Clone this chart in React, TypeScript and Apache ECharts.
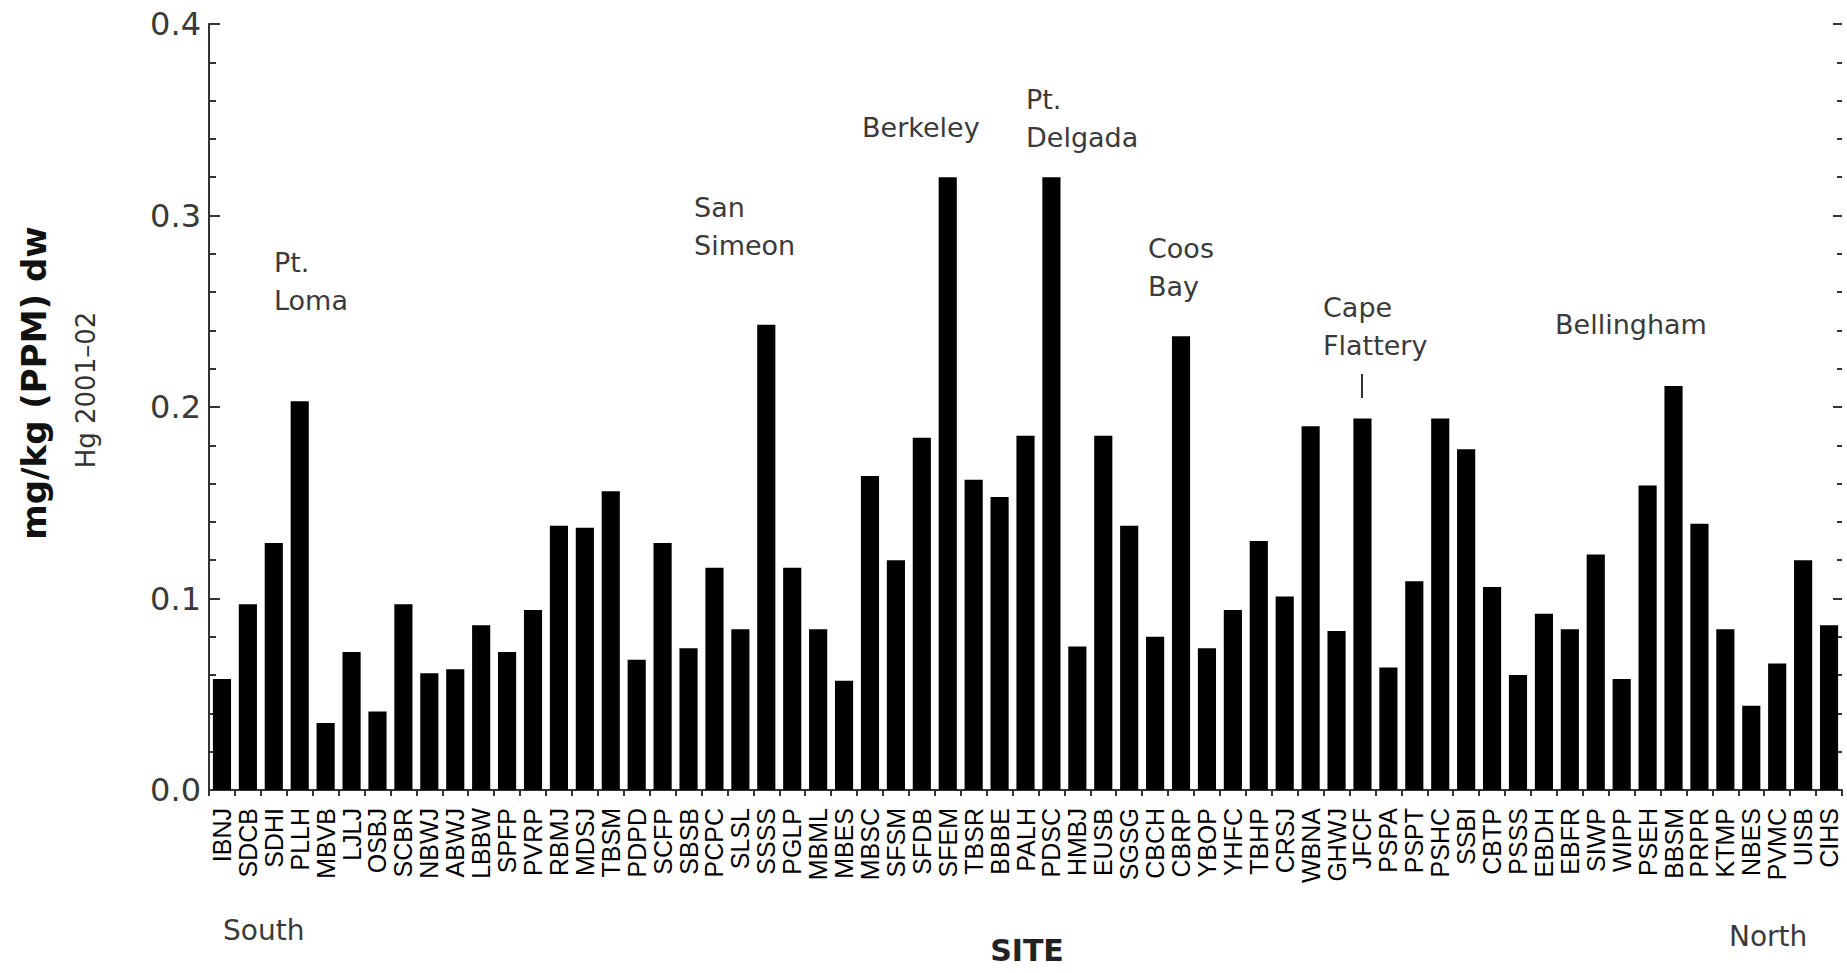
import React, { useEffect, useRef } from "react";
import * as echarts from "echarts";

const sites = [
  "IBNJ", "SDCB", "SDHI", "PLLH", "MBVB", "LJLJ", "OSBJ", "SCBR", "NBWJ", "ABWJ",
  "LBBW", "SPFP", "PVRP", "RBMJ", "MDSJ", "TBSM", "PDPD", "SCFP", "SBSB", "PCPC",
  "SLSL", "SSSS", "PGLP", "MBML", "MBES", "MBSC", "SFSM", "SFDB", "SFEM", "TBSR",
  "BBBE", "PALH", "PDSC", "HMBJ", "EUSB", "SGSG", "CBCH", "CBRP", "YBOP", "YHFC",
  "TBHP", "CRSJ", "WBNA", "GHWJ", "JFCF", "PSPA", "PSPT", "PSHC", "SSBI", "CBTP",
  "PSSS", "EBDH", "EBFR", "SIWP", "WIPP", "PSEH", "BBSM", "PRPR", "KTMP", "NBES",
  "PVMC", "UISB", "CIHS",
];

const hgValues = [
  0.058, 0.097, 0.129, 0.203, 0.035, 0.072, 0.041, 0.097, 0.061, 0.063,
  0.086, 0.072, 0.094, 0.138, 0.137, 0.156, 0.068, 0.129, 0.074, 0.116,
  0.084, 0.243, 0.116, 0.084, 0.057, 0.164, 0.120, 0.184, 0.320, 0.162,
  0.153, 0.185, 0.320, 0.075, 0.185, 0.138, 0.080, 0.237, 0.074, 0.094,
  0.130, 0.101, 0.190, 0.083, 0.194, 0.064, 0.109, 0.194, 0.178, 0.106,
  0.060, 0.092, 0.084, 0.123, 0.058, 0.159, 0.211, 0.139, 0.084, 0.044,
  0.066, 0.120, 0.086,
];

const yMin = 0;
const yMax = 0.4;
const yInterval = 0.1;

const placeNotes = [
  { text: "Pt.\nLoma", x: 274, y: 243 },
  { text: "San\nSimeon", x: 694, y: 188 },
  { text: "Berkeley", x: 862, y: 108 },
  { text: "Pt.\nDelgada", x: 1026, y: 80 },
  { text: "Coos\nBay", x: 1148, y: 229 },
  { text: "Cape\nFlattery", x: 1323, y: 288 },
  { text: "Bellingham", x: 1555, y: 305 },
];

export default function App() {
  const ref = useRef<HTMLDivElement>(null);

  useEffect(() => {
    if (!ref.current) return;
    const chart = echarts.init(ref.current, null, { renderer: "svg" });
    const noteFont = "DejaVu Sans";
    const graphics: any[] = placeNotes.map((n) => ({
      type: "text",
      x: n.x,
      y: n.y,
      style: {
        text: n.text,
        fill: "#3a3a3a",
        fontSize: 27,
        fontFamily: noteFont,
        lineHeight: 38,
        textAlign: "left",
        textVerticalAlign: "top",
      },
    }));
    graphics.push(
      {
        type: "line",
        shape: { x1: 1362, y1: 374, x2: 1362, y2: 398 },
        style: { stroke: "#333", lineWidth: 2 },
      },
      {
        type: "text",
        x: 223,
        y: 913,
        style: {
          text: "South",
          fill: "#3a3a3a",
          fontSize: 28,
          lineHeight: 34,
          fontFamily: noteFont,
          textAlign: "left",
          textVerticalAlign: "top",
        },
      },
      {
        type: "text",
        x: 1729,
        y: 919,
        style: {
          text: "North",
          fill: "#3a3a3a",
          fontSize: 28,
          lineHeight: 34,
          fontFamily: noteFont,
          textAlign: "left",
          textVerticalAlign: "top",
        },
      },
      {
        type: "text",
        x: 1027,
        y: 933,
        style: {
          text: "SITE",
          fill: "#222",
          fontSize: 30,
          lineHeight: 34,
          fontWeight: "bold",
          fontFamily: noteFont,
          textAlign: "center",
          textVerticalAlign: "top",
        },
      },
      {
        type: "text",
        x: 34,
        y: 383,
        rotation: Math.PI / 2,
        style: {
          text: "mg/kg (PPM) dw",
          fill: "#111",
          fontSize: 34,
          fontWeight: "bold",
          fontFamily: noteFont,
          textAlign: "center",
          textVerticalAlign: "middle",
        },
      },
      {
        type: "text",
        x: 86,
        y: 390,
        rotation: Math.PI / 2,
        style: {
          text: "Hg 2001\u201302",
          fill: "#333",
          fontSize: 26,
          fontFamily: noteFont,
          textAlign: "center",
          textVerticalAlign: "middle",
        },
      }
    );

    chart.setOption({
      animation: false,
      backgroundColor: "#ffffff",
      grid: { left: 209, right: 5, top: 24, bottom: 183, containLabel: false },
      xAxis: {
        type: "category",
        data: sites,
        boundaryGap: true,
        axisLine: { show: true, lineStyle: { color: "#333", width: 2 } },
        axisTick: {
          show: true,
          alignWithLabel: false,
          inside: false,
          length: 6,
          lineStyle: { color: "#333", width: 2 },
        },
        axisLabel: {
          interval: 0,
          rotate: 90,
          fontSize: 25,
          fontFamily: "Liberation Sans",
          color: "#000",
          margin: 18,
        },
        splitLine: { show: false },
      },
      yAxis: [
        {
          type: "value",
          min: yMin,
          max: yMax,
          interval: yInterval,
          position: "left",
          axisLine: { show: true, lineStyle: { color: "#333", width: 2 } },
          axisTick: { show: true, inside: true, length: 11, lineStyle: { color: "#333", width: 2 } },
          minorTick: { show: true, splitNumber: 5, length: 7, lineStyle: { color: "#333", width: 2 } },
          axisLabel: {
            formatter: (v: number) => v.toFixed(1),
            fontSize: 32,
            fontFamily: "DejaVu Sans",
            color: "#3a3a3a",
            margin: 8,
          },
          splitLine: { show: false },
        },
        {
          type: "value",
          min: yMin,
          max: yMax,
          interval: yInterval,
          position: "right",
          axisLine: { show: false },
          axisTick: { show: true, inside: true, length: 9, lineStyle: { color: "#333", width: 2 } },
          minorTick: { show: true, splitNumber: 5, length: 5, lineStyle: { color: "#333", width: 2 } },
          axisLabel: { show: false },
          splitLine: { show: false },
        },
      ],
      series: [
        {
          type: "bar",
          data: hgValues,
          yAxisIndex: 0,
          barCategoryGap: "30%",
          itemStyle: { color: "#000" },
        },
      ],
      graphic: graphics,
    });

    return () => {
      chart.dispose();
    };
  }, []);

  return (
    <div
      ref={ref}
      style={{ position: "fixed", left: 0, top: 0, width: 1847, height: 973, background: "#fff" }}
    />
  );
}
